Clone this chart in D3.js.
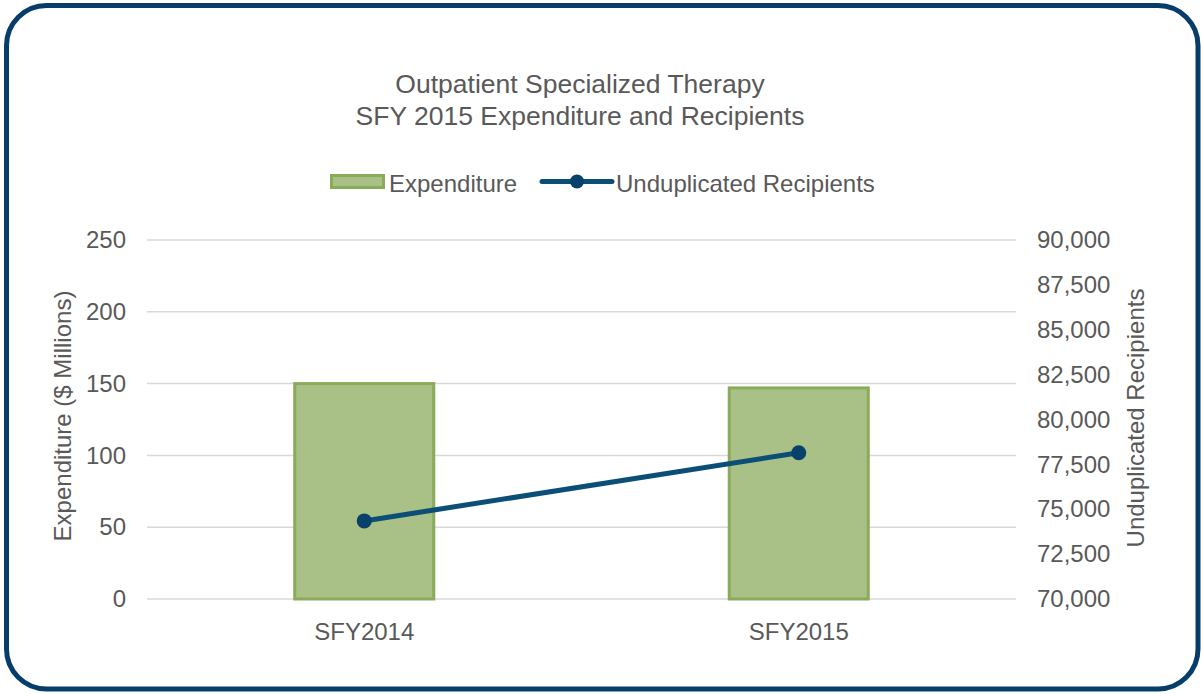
<!DOCTYPE html>
<html>
<head>
<meta charset="utf-8">
<script src="https://cdn.jsdelivr.net/npm/d3@7"></script>
<style>
  body { margin: 0; background: #fff; }
  svg { display: block; font-family: "Liberation Sans", Arial, sans-serif; }
</style>
</head>
<body>
<svg></svg>
<script>
// ---- DATA ----
const years = ["SFY2014", "SFY2015"];
const expenditure = [150, 147];          // $ millions
const recipients = [74350, 78150];       // unduplicated recipients
const leftTicks = [0, 50, 100, 150, 200, 250];
const rightTicks = [70000, 72500, 75000, 77500, 80000, 82500, 85000, 87500, 90000];

const W = 1201, H = 694;
const svg = d3.select("svg").attr("width", W).attr("height", H);

const margin = { top: 240, right: 185, bottom: 95, left: 147 };
const width = W - margin.left - margin.right;
const height = H - margin.top - margin.bottom;

// frame
svg.append("rect")
    .attr("x", 6.5).attr("y", 5.5)
    .attr("width", 1191.5).attr("height", 683.5)
    .attr("rx", 40).attr("ry", 40)
    .attr("fill", "#fff")
    .attr("stroke", "#073d6b")
    .attr("stroke-width", 5);

const textColor = "#595959";

// ---- TITLE ----
const title = svg.append("text")
    .attr("text-anchor", "middle")
    .attr("fill", textColor).attr("font-size", 26.5);
title.append("tspan").attr("x", 580).attr("y", 93).text("Outpatient Specialized Therapy");
title.append("tspan").attr("x", 580).attr("y", 125).text("SFY 2015 Expenditure and Recipients");

const g = svg.append("g").attr("transform", `translate(${margin.left},${margin.top})`);

// ---- SCALES ----
const x = d3.scaleBand().domain(years).range([0, width]).paddingInner(0.68).paddingOuter(0.34);
const xc = d => x(d) + x.bandwidth() / 2;
const yL = d3.scaleLinear().domain([0, 250]).range([height, 0]);
const yR = d3.scaleLinear().domain([70000, 90000]).range([height, 0]);

// ---- GRID ----
g.append("g").selectAll("line").data(leftTicks).join("line")
    .attr("x1", 0).attr("x2", width)
    .attr("y1", d => yL(d)).attr("y2", d => yL(d))
    .attr("stroke", "#d9d9d9").attr("stroke-width", 1.5);

// ---- BARS ----
g.append("g").selectAll("rect").data(years).join("rect")
    .attr("x", d => x(d))
    .attr("y", (d, i) => yL(expenditure[i]))
    .attr("width", x.bandwidth())
    .attr("height", (d, i) => height - yL(expenditure[i]))
    .attr("fill", "#a9c086")
    .attr("stroke", "#8aab5a")
    .attr("stroke-width", 3);

// ---- LINE ----
const pts = years.map((d, i) => ({ cat: d, v: recipients[i] }));
const line = d3.line().x(d => xc(d.cat)).y(d => yR(d.v));
g.append("path").datum(pts)
    .attr("d", line)
    .attr("fill", "none")
    .attr("stroke", "#0b4f77")
    .attr("stroke-width", 5);
g.append("g").selectAll("circle").data(pts).join("circle")
    .attr("cx", d => xc(d.cat)).attr("cy", d => yR(d.v))
    .attr("r", 7.5)
    .attr("fill", "#0a416c");

// ---- AXES ----
const leftAxis = g.append("g")
    .attr("transform", "translate(-21,0)")
    .call(d3.axisLeft(yL).tickValues(leftTicks).tickSize(0).tickPadding(0));
const rightAxis = g.append("g")
    .attr("transform", `translate(${width + 21},0)`)
    .call(d3.axisRight(yR).tickValues(rightTicks).tickSize(0).tickPadding(0).tickFormat(d3.format(",")));
const bottomAxis = g.append("g")
    .attr("transform", `translate(0,${height + 24})`)
    .call(d3.axisBottom(x).tickSize(0).tickPadding(0));

[leftAxis, rightAxis, bottomAxis].forEach(a => {
    a.select(".domain").remove();
    a.selectAll("text")
        .attr("fill", textColor)
        .attr("font-size", 24)
        .attr("font-family", "Liberation Sans, Arial, sans-serif");
});

// ---- AXIS TITLES ----
svg.append("text")
    .attr("transform", "translate(71,416) rotate(-90)")
    .attr("text-anchor", "middle")
    .attr("fill", textColor).attr("font-size", 24)
    .text("Expenditure ($ Millions)");
svg.append("text")
    .attr("transform", "translate(1144,418) rotate(-90)")
    .attr("text-anchor", "middle")
    .attr("fill", textColor).attr("font-size", 24)
    .text("Unduplicated Recipients");

// ---- LEGEND ----
const lg = svg.append("g").attr("font-size", 24).attr("fill", textColor);
lg.append("rect")
    .attr("x", 331.5).attr("y", 175.5).attr("width", 52).attr("height", 12)
    .attr("fill", "#a9c086").attr("stroke", "#8aab5a").attr("stroke-width", 3);
lg.append("text").attr("x", 389).attr("y", 192).text("Expenditure");
lg.append("line")
    .attr("x1", 542).attr("x2", 612).attr("y1", 181.5).attr("y2", 181.5)
    .attr("stroke", "#0b4f77").attr("stroke-width", 5).attr("stroke-linecap", "round");
lg.append("circle").attr("cx", 577).attr("cy", 181.5).attr("r", 7).attr("fill", "#0a416c");
lg.append("text").attr("x", 616).attr("y", 192).text("Unduplicated Recipients");
</script>
</body>
</html>
